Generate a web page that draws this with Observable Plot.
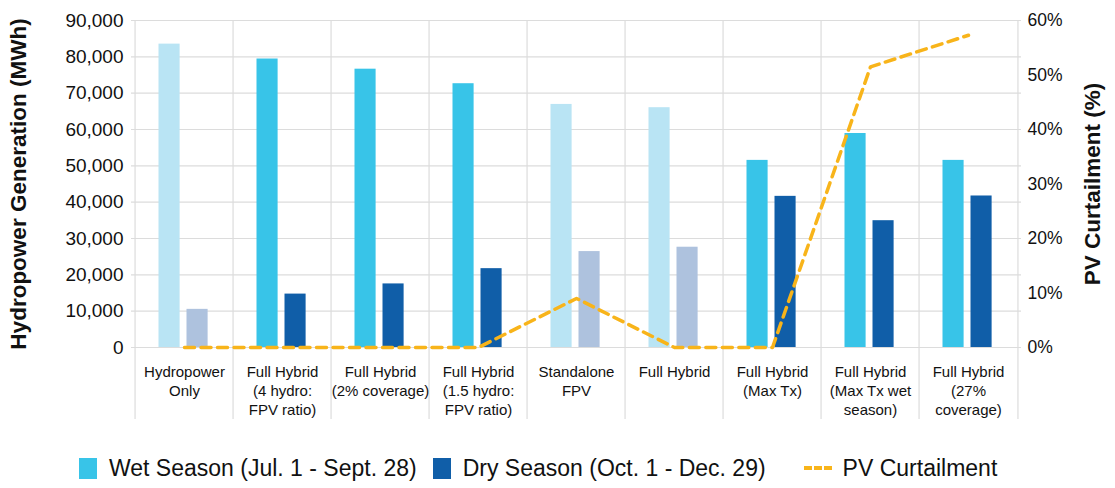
<!DOCTYPE html>
<html>
<head>
<meta charset="utf-8">
<script src="https://cdn.jsdelivr.net/npm/d3@7"></script>
<script src="https://cdn.jsdelivr.net/npm/@observablehq/plot@0.6"></script>
<style>
  body { margin: 0; background: #fff; font-family: "Liberation Sans", Arial, Helvetica, sans-serif; }
  #chart svg { display: block; }
  g[aria-label="y-axis label"] text { font-weight: bold; font-size: 22.5px; fill: #111; }
  .legend { display: flex; align-items: center; height: 48px; padding-left: 79px; font-size: 23px; color: #111; box-sizing: border-box; padding-top: 8px; }
  .legend .item { display: flex; align-items: center; margin-right: 16px; white-space: nowrap; }
  .legend .sw { width: 18px; height: 21px; margin-right: 12px; }
  .legend .dash { width: 28px; height: 0; border-top: 4px dashed #F8B41A; margin: 0 11px 0 22px; }
</style>
</head>
<body>
<div id="chart"></div>
<script>
const scenarios = [
  "Hydropower\nOnly",
  "Full Hybrid\n(4 hydro:\nFPV ratio)",
  "Full Hybrid\n(2% coverage)",
  "Full Hybrid\n(1.5 hydro:\nFPV ratio)",
  "Standalone\nFPV",
  "Full Hybrid",
  "Full Hybrid\n(Max Tx)",
  "Full Hybrid\n(Max Tx wet\nseason)",
  "Full Hybrid\n(27%\ncoverage)"
];
const wetSeason = [83500, 79400, 76600, 72600, 66900, 66000, 51500, 58900, 51500];
const drySeason = [10500, 14700, 17500, 21700, 26400, 27600, 41600, 34900, 41700];
const curtailment = [0, 0, 0, 0, 9, 0, 0, 51.5, 57.3];
const fadedScenarios = ["Hydropower\nOnly", "Standalone\nFPV", "Full Hybrid"];
const leftTicks = [0, 10000, 20000, 30000, 40000, 50000, 60000, 70000, 80000, 90000];
const rightTicks = [0, 10, 20, 30, 40, 50, 60];

const yMax = 90000, pctMax = 60, k = yMax / pctMax;
const rows = scenarios.map((s, i) => ({scenario: s, wet: wetSeason[i], dry: drySeason[i], curt: curtailment[i], faded: fadedScenarios.includes(s)}));

const W = 1115, mL = 131, mR = 94;
const bw = (W - mL - mR) / scenarios.length;

const chart = Plot.plot({
  width: W, height: 440,
  marginLeft: mL, marginRight: mR, marginTop: 20, marginBottom: 93,
  style: {fontFamily: '"Liberation Sans", Arial, Helvetica, sans-serif', color: "#111", background: "#fff"},
  x: {domain: scenarios, padding: 0},
  y: {domain: [0, yMax]},
  marks: [
    Plot.ruleY(leftTicks, {stroke: "#dcdcdc", strokeWidth: 1.2}),
    Plot.ruleX(scenarios, {x: d => d, dx: -bw / 2, y1: -19800, y2: yMax, stroke: "#dcdcdc", strokeWidth: 1.2}),
    Plot.ruleX(scenarios.slice(-1), {x: d => d, dx: bw / 2, y1: -19800, y2: yMax, stroke: "#dcdcdc", strokeWidth: 1.2}),
    Plot.barY(rows, {x: "scenario", y: "wet", fill: d => d.faded ? "#b9e4f4" : "#38c4e8", insetLeft: 23.5, insetRight: bw - 45.5}),
    Plot.barY(rows, {x: "scenario", y: "dry", fill: d => d.faded ? "#aec2de" : "#105ea8", insetLeft: 51.5, insetRight: bw - 73.5}),
    Plot.lineY(rows, {x: "scenario", y: d => d.curt * k, stroke: "#F8B41A", strokeWidth: 3.5, strokeDasharray: "10,6.5"}),
    Plot.axisX({tickSize: 0, tickPadding: 16, fontSize: 15, lineHeight: 1.27, label: null}),
    Plot.axisY(leftTicks, {anchor: "left", tickSize: 0, tickPadding: 8, fontSize: 19, tickFormat: d3.format(","), label: "Hydropower Generation (MWh)", labelArrow: "none", labelAnchor: "center", labelOffset: 121}),
    Plot.axisY(rightTicks.map(p => p * k), {anchor: "right", tickSize: 0, tickPadding: 6, fontSize: 17.5, tickFormat: d => Math.round(d / k) + "%", label: "PV Curtailment (%)", labelArrow: "none", labelAnchor: "center", labelOffset: 78})
  ]
});
document.getElementById("chart").appendChild(chart);

const legend = document.createElement("div");
legend.className = "legend";
legend.innerHTML = `
  <div class="item"><div class="sw" style="background:#38c4e8"></div>Wet Season (Jul. 1 - Sept. 28)</div>
  <div class="item"><div class="sw" style="background:#105ea8"></div>Dry Season (Oct. 1 - Dec. 29)</div>
  <div class="item"><div class="dash"></div>PV Curtailment</div>`;
document.getElementById("chart").appendChild(legend);
</script>
</body>
</html>
